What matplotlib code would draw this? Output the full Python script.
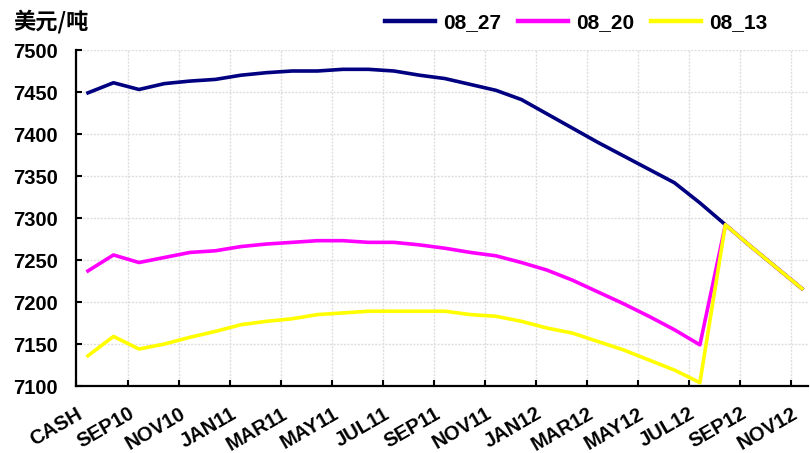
import numpy as np
import matplotlib
matplotlib.use("Agg")
import matplotlib.pyplot as plt
from matplotlib.transforms import ScaledTranslation

# forward curve, CASH then monthly prompts
s0827 = [7449, 7461, 7453, 7460, 7463, 7465, 7470, 7473, 7475, 7475,
         7477, 7477, 7475, 7470, 7466, 7459, 7452, 7441, 7424, 7407,
         7390, 7374, 7358, 7342, 7318, 7292, 7266, 7241, 7216]
s0820 = [7237, 7256, 7247, 7253, 7259, 7261, 7266, 7269, 7271, 7273,
         7273, 7271, 7271, 7268, 7264, 7259, 7255, 7247, 7238, 7226,
         7212, 7198, 7183, 7167, 7149, 7292, 7266, 7241, 7216]
s0813 = [7136, 7159, 7144, 7150, 7158, 7165, 7173, 7177, 7180, 7185,
         7187, 7189, 7189, 7189, 7189, 7185, 7183, 7177, 7169, 7163,
         7153, 7143, 7131, 7119, 7104, 7292, 7266, 7241, 7216]
names = ["08_27", "08_20", "08_13"]
tick_labels = ["CASH", "SEP10", "NOV10", "JAN11", "MAR11", "MAY11", "JUL11",
               "SEP11", "NOV11", "JAN12", "MAR12", "MAY12", "JUL12",
               "SEP12", "NOV12"]

plt.rcParams["font.family"] = ["Liberation Sans", "DejaVu Sans"]

fig = plt.figure(figsize=(8.1, 4.53), dpi=100)
ax = fig.add_axes([76 / 810, 1 - 386 / 453, 732 / 810, 336 / 453])

x = np.arange(len(s0827))
ax.plot(x, s0827, color="#000080", lw=2.6, label=names[0])
ax.plot(x, s0820, color="#FF00FF", lw=2.6, label=names[1])
ax.plot(x, s0813, color="#FFFF00", lw=2.6, label=names[2])

ax.set_xlim(-0.47, 28.24)
ax.set_ylim(7100, 7500)
ax.set_yticks(np.arange(7100, 7501, 50))
xt = [-0.47] + [1.57 + 2 * k for k in range(14)]
ax.set_xticks(xt)
ax.set_xticklabels(tick_labels, rotation=30, ha="right", va="top",
                   rotation_mode="anchor", fontsize=14.5, fontweight="bold")
for lab in ax.get_xticklabels():
    lab.set_transform(lab.get_transform() + ScaledTranslation(4 / 72, 0, fig.dpi_scale_trans))
for lab in ax.get_yticklabels():
    lab.set_fontsize(14.5)
    lab.set_fontweight("bold")

ax.tick_params(axis="both", direction="in", length=4, width=1.5, color="black")
ax.tick_params(axis="x", pad=13)
ax.tick_params(axis="y", pad=13)

ax.grid(True, color="#dedede", lw=1, ls=(0, (1.5, 1)))
for side in ["top", "right"]:
    ax.spines[side].set_visible(False)
for side in ["left", "bottom"]:
    ax.spines[side].set_linewidth(1.6)
    ax.spines[side].set_color("black")

fig.text(13 / 810, 1 - 22 / 453, "美元/吨", family=["Noto Sans CJK SC", "DejaVu Sans"],
         fontsize=16, fontweight="bold", va="center", ha="left")

leg = fig.legend(loc="center", bbox_to_anchor=(576 / 810, 1 - 23 / 453), ncol=3,
                 frameon=False, handlelength=2.4, handletextpad=0.4,
                 columnspacing=0.8, prop={"size": 15, "weight": "bold"})
for line in leg.get_lines():
    line.set_linewidth(3.2)

fig.savefig("out.png", dpi=100)
